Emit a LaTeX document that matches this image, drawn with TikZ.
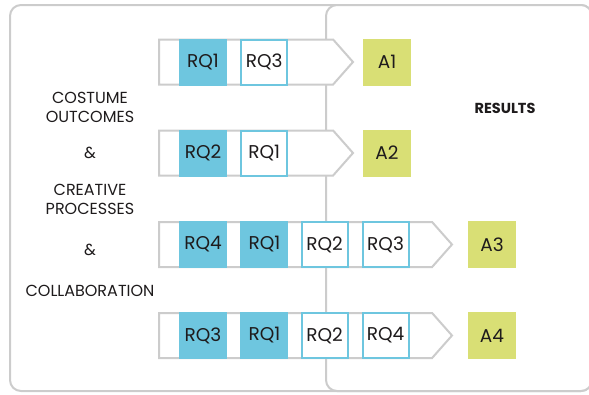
\documentclass[tikz,border=0pt]{standalone}
\usepackage{fontspec}
\setmainfont{Poppins}
\usepackage{xcolor}
\usetikzlibrary{positioning,shapes.symbols}
\definecolor{rqblue}{HTML}{6EC6DF}
\definecolor{ansgreen}{HTML}{D9DF75}
\definecolor{framegray}{HTML}{CCCCCC}
\definecolor{inkdark}{HTML}{1E1B1C}

\begin{document}
\begin{tikzpicture}[x=1pt, y=-1pt,
    panel/.style={draw=framegray, line width=2pt, rounded corners=11pt},
    flow/.style={signal, signal to=east, signal pointer angle=97, draw=framegray, fill=white, line width=2pt, minimum height=45pt, inner sep=0pt, anchor=west},
    rqfill/.style={fill=rqblue, minimum width=48pt, minimum height=47pt, inner sep=0pt, text=inkdark, font=\fontsize{18.5}{20}\selectfont},
    rqline/.style={draw=rqblue, fill=white, line width=2pt, minimum width=46pt, minimum height=45pt, inner sep=0pt, text=inkdark, font=\fontsize{18.5}{20}\selectfont},
    ans/.style={fill=ansgreen, minimum width=48pt, minimum height=47pt, inner sep=0pt, text=inkdark, font=\fontsize{18.5}{20}\selectfont},
    lbl/.style={align=center, text=inkdark, font=\fontsize{16}{19}\selectfont}
]
\useasboundingbox (0,0) rectangle (589,394);
\draw[panel] (10,5) rectangle (592,391);
\draw[panel, fill=white] (326,5) rectangle (592,391);

\node[lbl] (costume) at (90,107.5) {COSTUME\\OUTCOMES};
\node[lbl] (amp1) at (90,153) {\&};
\node[lbl] (creative) at (90,199.5) {CREATIVE\\PROCESSES};
\node[lbl] (amp2) at (90,250) {\&};
\node[lbl] (collab) at (90,291) {COLLABORATION};
\node[lbl, font=\fontsize{14.5}{17}\selectfont\bfseries] (results) at (505,108) {RESULTS};

\node[flow, minimum width=194pt] (f1) at (158,62) {};
\node[rqfill] (q11) at (203,62) {RQ1};
\node[rqline, right=13pt of q11] (q12) {RQ3};
\node[ans] (a1) at (387,62) {A1};

\node[flow, minimum width=194pt] (f2) at (158,153) {};
\node[rqfill] (q21) at (203,153) {RQ2};
\node[rqline, right=13pt of q21] (q22) {RQ1};
\node[ans] (a2) at (387,153) {A2};

\node[flow, minimum width=293pt] (f3) at (158,244.5) {};
\node[rqfill] (q31) at (203,244.5) {RQ4};
\node[rqfill, right=13pt of q31] (q32) {RQ1};
\node[rqline, right=12pt of q32] (q33) {RQ2};
\node[rqline, right=13pt of q33] (q34) {RQ3};
\node[ans] (a3) at (492,244.5) {A3};

\node[flow, minimum width=293pt] (f4) at (158,335.5) {};
\node[rqfill] (q41) at (203,335.5) {RQ3};
\node[rqfill, right=13pt of q41] (q42) {RQ1};
\node[rqline, right=12pt of q42] (q43) {RQ2};
\node[rqline, right=13pt of q43] (q44) {RQ4};
\node[ans] (a4) at (492,335.5) {A4};
\end{tikzpicture}
\end{document}
